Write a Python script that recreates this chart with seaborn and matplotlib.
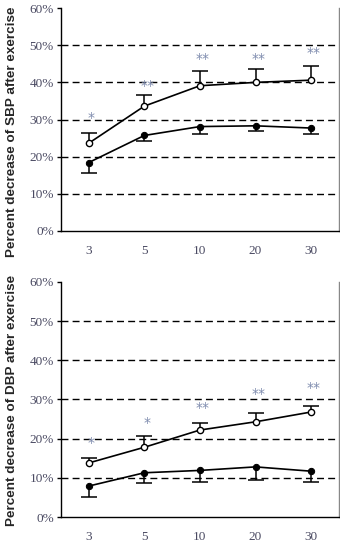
import numpy as np
import pandas as pd
import matplotlib
matplotlib.use("Agg")
import matplotlib.pyplot as plt
import seaborn as sns

# Exercise duration (min)
categories = ["3", "5", "10", "20", "30"]

# Systolic BP: percent decrease (open = group A, filled = group B)
sbp_open = [23.6, 33.6, 39.1, 40.0, 40.6]
sbp_open_err = [2.9, 2.9, 3.9, 3.5, 3.7]
sbp_filled = [18.4, 25.7, 28.1, 28.3, 27.7]
sbp_filled_err = [2.8, 1.6, 2.0, 1.5, 1.7]
sbp_marks = ["*", "**", "**", "**", "**"]
sbp_mark_y = [31.3, 40.0, 47.2, 47.2, 48.8]

# Diastolic BP: percent decrease
dbp_open = [13.8, 17.8, 22.2, 24.3, 26.8]
dbp_open_err = [1.3, 3.0, 1.7, 2.3, 1.5]
dbp_filled = [7.9, 11.3, 11.9, 12.8, 11.7]
dbp_filled_err = [2.7, 2.5, 2.9, 3.4, 2.7]
dbp_marks = ["*", "*", "**", "**", "**"]
dbp_mark_y = [20.0, 25.1, 28.7, 32.3, 33.8]

yticks = [0, 10, 20, 30, 40, 50, 60]
ytick_labels = ["0%", "10%", "20%", "30%", "40%", "50%", "60%"]

sns.set_style("white")
plt.rcParams["font.family"] = ["Liberation Serif", "DejaVu Sans"]

fig = plt.figure(figsize=(3.4, 5.42), dpi=100)
ax_top = fig.add_axes([0.179, 0.574, 0.818, 0.411])
ax_bot = fig.add_axes([0.179, 0.046, 0.818, 0.434])

tick_color = "#4a4a62"
star_color = "#7f8cae"


def one_sided(ax, pos, vals, errs, upward):
    lo = np.zeros(len(pos)) if upward else np.asarray(errs)
    hi = np.asarray(errs) if upward else np.zeros(len(pos))
    _, caps, _ = ax.errorbar(pos, vals, yerr=[lo, hi], fmt="none", ecolor="black",
                             elinewidth=1.1, capsize=5.5, capthick=1.1, zorder=2)
    # keep only the cap at the far end of the bar
    caps[0 if upward else 1].set_visible(False)


def draw_panel(ax, open_v, open_e, filled_v, filled_e, marks, mark_y, ylabel, label_y):
    pos = np.arange(len(categories))
    df = pd.DataFrame({"pos": pos, "open": open_v, "filled": filled_v})

    for lv in yticks[1:-1]:
        ax.axhline(lv, color="black", lw=1.0, ls=(0, (5, 3)), zorder=1)

    one_sided(ax, pos, open_v, open_e, upward=True)
    one_sided(ax, pos, filled_v, filled_e, upward=False)

    sns.lineplot(data=df, x="pos", y="open", ax=ax, color="black", lw=1.2,
                 marker="o", markersize=4.5, markerfacecolor="white",
                 markeredgecolor="black", markeredgewidth=1.0, zorder=3)
    sns.lineplot(data=df, x="pos", y="filled", ax=ax, color="black", lw=1.2,
                 marker="o", markersize=4.5, markerfacecolor="black",
                 markeredgecolor="black", zorder=3)

    for p, m, y in zip(pos, marks, mark_y):
        ax.text(p + 0.05, y - 1.0, m, ha="center", va="center", fontsize=10,
                color=star_color, family=["DejaVu Sans"])

    ax.set_xlim(-0.5, len(categories) - 0.5)
    ax.set_ylim(0, 60)
    ax.set_yticks(yticks)
    ax.set_yticklabels(ytick_labels, color=tick_color, fontsize=9.5)
    ax.set_xticks(pos)
    ax.set_xticklabels(categories, color=tick_color, fontsize=9.5)
    ax.set_xticks(np.arange(-0.5, len(categories)), minor=True)
    ax.tick_params(axis="x", which="major", length=0, pad=10)
    ax.tick_params(axis="x", which="minor", length=4, width=1.0, direction="out",
                   color="black")
    ax.tick_params(axis="y", length=3, width=1.0, direction="out", color="black",
                   pad=2, left=True)
    ax.set_xlabel("")
    ax.set_ylabel(ylabel, fontsize=9.7, fontweight="bold",
                  family=["Liberation Sans", "DejaVu Sans"])
    ax.yaxis.set_label_coords(-0.155, label_y)
    ax.spines["top"].set_visible(False)
    ax.spines["right"].set_color("#888888")
    ax.spines["right"].set_linewidth(1.0)
    for s in ("left", "bottom"):
        ax.spines[s].set_color("black")
        ax.spines[s].set_linewidth(1.0)
    ax.legend_ = None


draw_panel(ax_top, sbp_open, sbp_open_err, sbp_filled, sbp_filled_err,
           sbp_marks, sbp_mark_y, "Percent decrease of SBP after exercise", 0.445)
draw_panel(ax_bot, dbp_open, dbp_open_err, dbp_filled, dbp_filled_err,
           dbp_marks, dbp_mark_y, "Percent decrease of DBP after exercise", 0.494)

fig.savefig("out.png", dpi=100)
